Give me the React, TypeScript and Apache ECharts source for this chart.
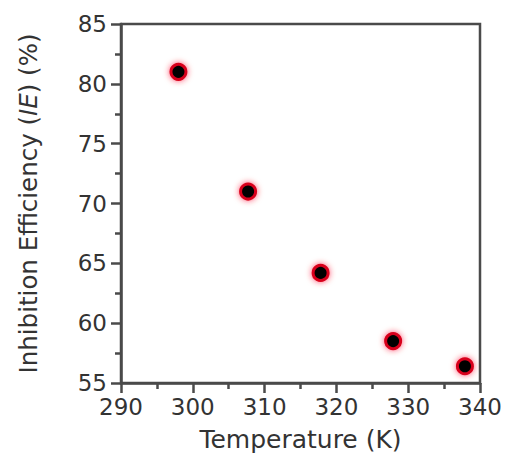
import React, { useEffect, useRef } from "react";
import * as echarts from "echarts";

const temperatures = [298, 307.7, 317.8, 327.9, 337.9];
const efficiencies = [81.0, 71.0, 64.2, 58.5, 56.4];
const xTicks = { min: 290, max: 340, interval: 10 };
const yTicks = { min: 55, max: 85, interval: 5 };

const FONT = "DejaVu Sans";
const TEXT = "#333333";
const AXIS = "#4a4a4a";

export default function App() {
  const ref = useRef<HTMLDivElement>(null);
  useEffect(() => {
    document.body.style.margin = "0";
    const chart = echarts.init(ref.current!, null, { renderer: "svg" });
    chart.setOption({
      animation: false,
      backgroundColor: "#ffffff",
      grid: {
        left: 121,
        top: 24,
        right: 25,
        bottom: 80,
        show: true,
        borderColor: AXIS,
        borderWidth: 2.5,
        backgroundColor: "transparent",
      },
      xAxis: {
        type: "value",
        min: xTicks.min,
        max: xTicks.max,
        interval: xTicks.interval,
        name: "Temperature (K)",
        nameLocation: "middle",
        nameGap: 44,
        nameTextStyle: { fontFamily: FONT, fontSize: 25, color: TEXT },
        axisLine: { show: true, lineStyle: { color: AXIS, width: 2.5 } },
        axisTick: { show: true, inside: false, length: 10, lineStyle: { color: AXIS, width: 2.5 } },
        minorTick: { show: true, splitNumber: 2, length: 6, lineStyle: { color: AXIS, width: 2.5 } },
        splitLine: { show: false },
        axisLabel: { fontFamily: FONT, fontSize: 23, color: TEXT, margin: 12 },
      },
      yAxis: {
        type: "value",
        min: yTicks.min,
        max: yTicks.max,
        interval: yTicks.interval,
        name: "Inhibition Efficiency ({i|IE}) (%)",
        nameLocation: "middle",
        nameGap: 80,
        nameTextStyle: {
          fontFamily: FONT,
          fontSize: 24.5,
          color: TEXT,
          rich: { i: { fontFamily: FONT, fontSize: 24.5, color: TEXT, fontStyle: "italic" } },
        },
        axisLine: { show: true, lineStyle: { color: AXIS, width: 2.5 } },
        axisTick: { show: true, inside: false, length: 10, lineStyle: { color: AXIS, width: 2.5 } },
        minorTick: { show: true, splitNumber: 2, length: 6, lineStyle: { color: AXIS, width: 2.5 } },
        splitLine: { show: false },
        axisLabel: { fontFamily: FONT, fontSize: 23, color: TEXT, margin: 14 },
      },
      series: [
        {
          type: "scatter",
          data: temperatures.map((t, i) => [t, efficiencies[i]]),
          symbol: "circle",
          symbolSize: 15,
          itemStyle: {
            color: "#000000",
            borderColor: "#d8001a",
            borderWidth: 3,
            shadowBlur: 6,
            shadowColor: "rgba(255,0,40,0.7)",
            opacity: 1,
          },
        },
      ],
    });
    return () => chart.dispose();
  }, []);
  return <div ref={ref} style={{ width: 505, height: 463 }} />;
}
